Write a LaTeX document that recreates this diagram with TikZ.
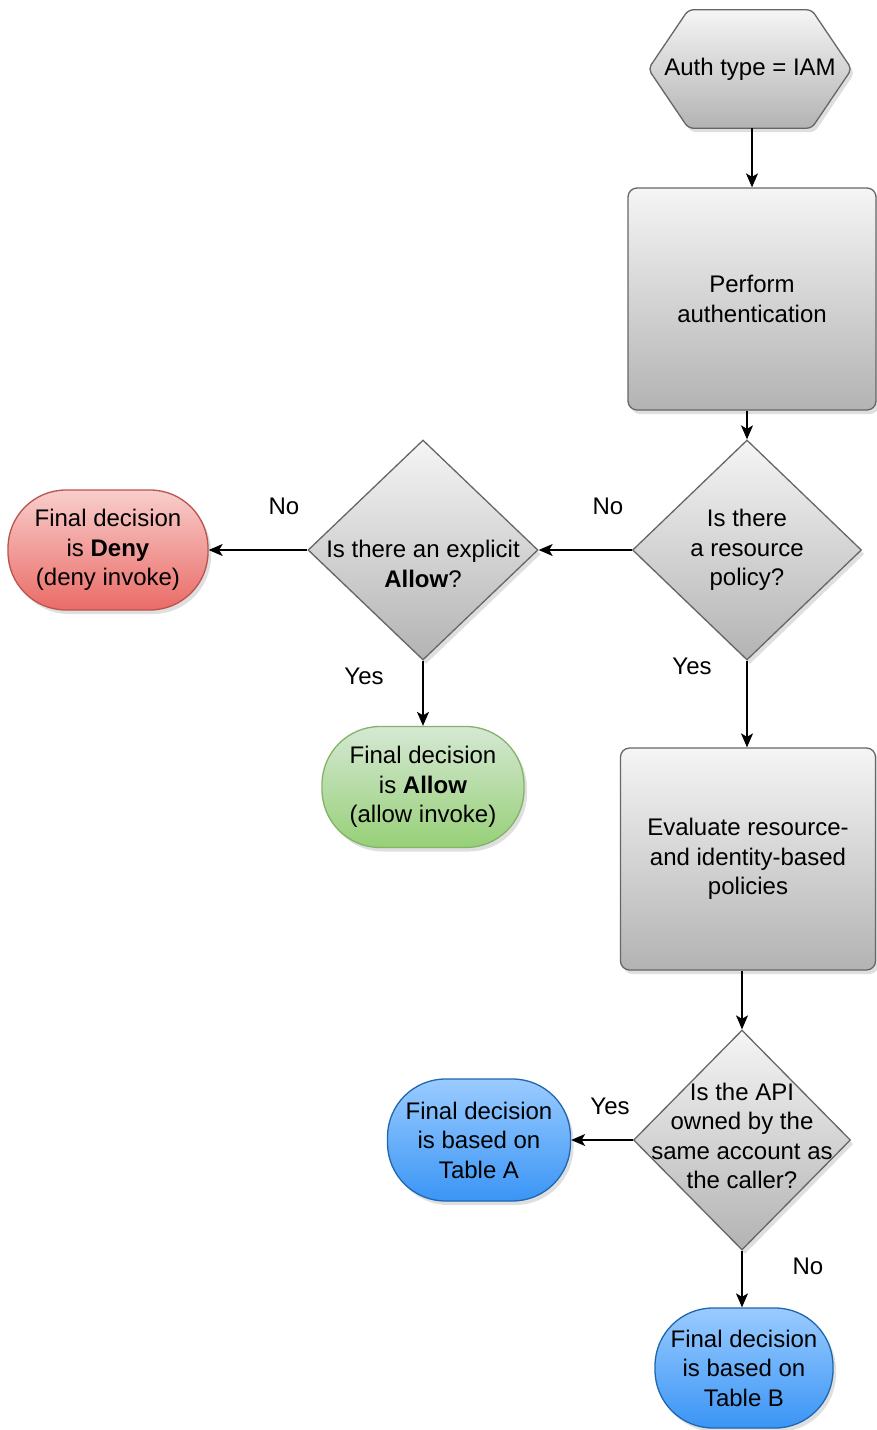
\documentclass[tikz,border=0pt]{standalone}
\usepackage{fontspec}
\setmainfont{Liberation Sans}
\usetikzlibrary{arrows.meta,shapes.geometric,shadows,backgrounds}

\definecolor{greytop}{HTML}{F5F5F5}
\definecolor{greybot}{HTML}{B3B3B3}
\definecolor{greyline}{HTML}{666666}
\definecolor{denytop}{HTML}{F8CECC}
\definecolor{denybot}{HTML}{EA6B66}
\definecolor{denyline}{HTML}{B85450}
\definecolor{allowtop}{HTML}{D5E8D4}
\definecolor{allowbot}{HTML}{97D077}
\definecolor{allowline}{HTML}{82B366}
\definecolor{tabletop}{HTML}{9ACBFF}
\definecolor{tablebot}{HTML}{3A95F5}
\definecolor{tableline}{HTML}{1F66B0}

\tikzset{
    txt/.style={font=\fontsize{24}{29.5}\selectfont, align=center, text=black},
    softshadow/.style={drop shadow={shadow xshift=3pt, shadow yshift=-4pt, opacity=0.25}},
    greyfill/.style={draw=greyline, line width=1.3pt, top color=greytop, bottom color=greybot, softshadow},
    greybox/.style={txt, greyfill, rectangle, rounded corners=9pt, inner sep=0pt},
    hexbox/.style={txt, rectangle, inner sep=0pt},
    decision/.style={greyfill, diamond, inner sep=0pt, minimum height=220pt},
    endbox/.style={txt, rectangle, rounded corners=58pt, line width=1.3pt, softshadow, inner sep=0pt},
    denybox/.style={endbox, draw=denyline, top color=denytop, bottom color=denybot},
    allowbox/.style={endbox, draw=allowline, top color=allowtop, bottom color=allowbot},
    tablebox/.style={endbox, draw=tableline, top color=tabletop, bottom color=tablebot},
    arrow/.style={-{Stealth[length=14pt, width=12pt, inset=3.5pt]}, line width=1.3pt},
    lbl/.style={txt}
}

\begin{document}
\begin{tikzpicture}[x=1pt, y=-1pt]
    \useasboundingbox (0,0) rectangle (877,1430);

    % right column
    \node[hexbox, minimum width=203pt, minimum height=118pt] (auth) at (750,69) {Auth type = IAM};
    \node[greybox, minimum width=248pt, minimum height=222pt] (authn) at (752,299) {Perform\\authentication};
    \node[decision, minimum width=229pt, label={[txt]center:{Is there\\a resource\\policy?}}] (policy) at (747,550) {};
    \node[greybox, minimum width=255pt, minimum height=222pt] (evaluate) at (748,859) {Evaluate resource-\\and identity-based\\policies};
    \node[decision, minimum width=217pt, label={[txt, yshift=4pt]center:{Is the API\\owned by the\\same account as\\the caller?}}] (owner) at (742,1140) {};
    \node[tablebox, minimum width=178pt, minimum height=120pt] (tableB) at (744,1368) {Final decision\\is based on\\Table B};
    \node[tablebox, minimum width=183pt, minimum height=122pt] (tableA) at (479,1140) {Final decision\\is based on\\Table A};

    % left column
    \node[decision, minimum width=230pt, label={[txt, yshift=-14pt]center:{Is there an explicit\\\textbf{Allow}?}}] (explicit) at (423,550) {};
    \node[denybox, minimum width=200pt, minimum height=120pt] (deny) at (108,550) {Final decision\\is \textbf{Deny}\\(deny invoke)};
    \node[allowbox, minimum width=202pt, minimum height=121pt] (allow) at (423,787) {Final decision\\is \textbf{Allow}\\(allow invoke)};

    % hexagon outline behind the start node
    \begin{scope}[on background layer]
        \path[greyfill, rounded corners=5pt] (auth.west) -- ([xshift=40pt]auth.north west) -- ([xshift=-40pt]auth.north east)
            -- (auth.east) -- ([xshift=-40pt]auth.south east) -- ([xshift=40pt]auth.south west) -- cycle;
    \end{scope}

    % connectors
    \draw[arrow] (auth.south -| authn.north) -- (authn.north);
    \draw[arrow] (authn.south -| policy.north) -- (policy.north);
    \draw[arrow] (policy.west) -- (explicit.east);
    \draw[arrow] (explicit.west) -- (deny.east);
    \draw[arrow] (explicit.south) -- (allow.north);
    \draw[arrow] (policy.south) -- (policy.south |- evaluate.north);
    \draw[arrow] (evaluate.south -| owner.north) -- (owner.north);
    \draw[arrow] (owner.west) -- (tableA.east);
    \draw[arrow] (owner.south) -- (owner.south |- tableB.north);

    % labels
    \node[lbl] (noPolicy) at (608,506) {No};
    \node[lbl] (noAllow) at (284,506) {No};
    \node[lbl] (yesAllow) at (364,676) {Yes};
    \node[lbl] (yesPolicy) at (692,666) {Yes};
    \node[lbl] (yesOwner) at (610,1106) {Yes};
    \node[lbl] (noOwner) at (808,1266) {No};
\end{tikzpicture}
\end{document}
